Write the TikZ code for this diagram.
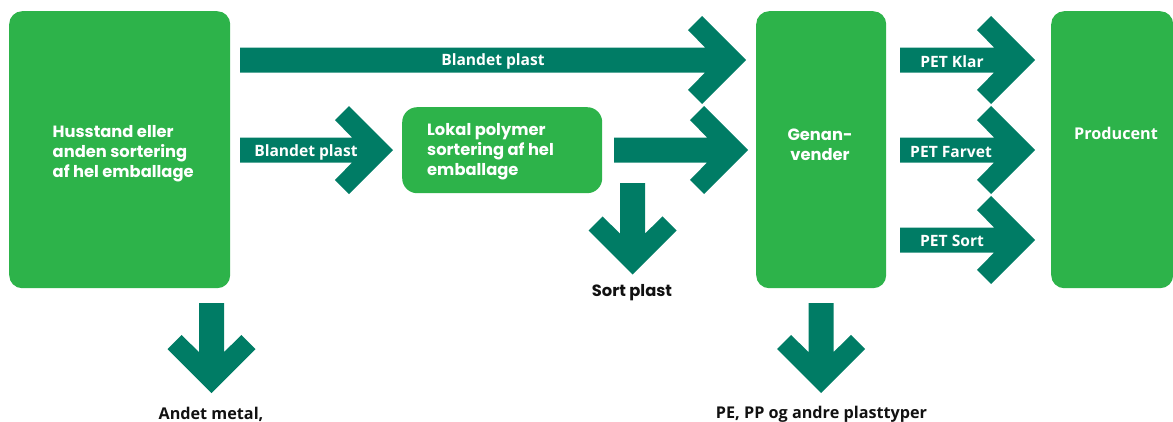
\documentclass[tikz,border=0pt]{standalone}
\usepackage{fontspec}
\newfontfamily\geofont{Poppins}
\newfontfamily\humfont{Open Sans}
\definecolor{boxgreen}{RGB}{45,179,74}
\definecolor{flowteal}{RGB}{0,124,101}
\definecolor{inkblack}{RGB}{17,17,17}

\tikzset{
  stage/.style={fill=boxgreen, rounded corners=13pt, inner sep=0pt, anchor=north west},
  stagetext/.style={text=white, font=\geofont\bfseries\fontsize{16.3}{20}\selectfont, align=left, inner sep=0pt},
  flowtext/.style={text=white, font=\humfont\bfseries\fontsize{15.6}{18}\selectfont, inner sep=0pt},
  outtext/.style={text=inkblack, font=\humfont\bfseries\fontsize{16.2}{19}\selectfont, inner sep=0pt},
  sorttext/.style={text=inkblack, font=\geofont\bfseries\fontsize{16.3}{19}\selectfont, inner sep=0pt},
  % thick chevron arrow: shaft 25 wide, head 88 tall, arm thickness 20
  pics/chevron/.style={code={
    \fill[flowteal] (0,-12.5) -- (#1-40.8,-12.5) -- (#1-58.1,-29.9) -- (#1-44,-44)
      -- (#1,0) -- (#1-44,44) -- (#1-58.1,29.9) -- (#1-40.8,12.5) -- (0,12.5) -- cycle;
  }},
}

\begin{document}
\begin{tikzpicture}[x=1pt, y=-1pt]
\useasboundingbox (0,0) rectangle (1173,421);

% stages
\node[stage, minimum width=221pt, minimum height=277pt] (hus) at (9,11) {};
\node[stage, minimum width=200pt, minimum height=86pt, rounded corners=15pt] (lokal) at (402,107) {};
\node[stage, minimum width=130pt, minimum height=277pt] (gen) at (756,11) {};
\node[stage, minimum width=122pt, minimum height=277pt] (prod) at (1051,11) {};

\node[stagetext, anchor=west] (hustxt) at (52.5,154) {Husstand eller\\anden sortering\\af hel emballage};
\node[stagetext, anchor=west] (lokaltxt) at (427,152) {Lokal polymer\\sortering af hel\\emballage};
\node[stagetext, align=center] (gentxt) at (820,145) {Genan-\\vender};
\node[flowtext, font=\humfont\bfseries\fontsize{16.2}{19}\selectfont] (prodtxt) at (1116,133) {Producent};

% arrow anchors
\coordinate (topstart) at (240,60);
\coordinate (midstart) at (240,150);
\coordinate (lokalstart) at (614,150);
\coordinate (sortstart) at (632.5,183);
\coordinate (husstart) at (211.5,303);
\coordinate (genstart) at (821,303);
\coordinate (klarstart) at (900,60);
\coordinate (farvstart) at (900,150);
\coordinate (petsstart) at (900,240);

\pic (topflow) at (topstart) {chevron=506};
\pic (midflow) at (midstart) {chevron=153};
\pic (lokalflow) at (lokalstart) {chevron=134};
\pic[rotate=-90] (sortflow) at (sortstart) {chevron=91.5};
\pic[rotate=-90] (husflow) at (husstart) {chevron=90};
\pic[rotate=-90] (genflow) at (genstart) {chevron=90};
\pic (klarflow) at (klarstart) {chevron=135};
\pic (farvflow) at (farvstart) {chevron=135};
\pic (petsflow) at (petsstart) {chevron=135};

% labels
\node[flowtext] (toplbl) at (493,61) {Blandet plast};
\node[flowtext] (midlbl) at (306,152) {Blandet plast};
\node[flowtext] (klarlbl) at (952,62) {PET Klar};
\node[flowtext] (farvlbl) at (951,152) {PET Farvet};
\node[flowtext] (petslbl) at (952,241) {PET Sort};
\node[sorttext] (sortlbl) at (632,293) {Sort plast};
\node[outtext] (metallbl) at (211,414) {Andet metal,};
\node[outtext] (pelbl) at (821.5,414) {PE, PP og andre plasttyper};
\end{tikzpicture}
\end{document}
